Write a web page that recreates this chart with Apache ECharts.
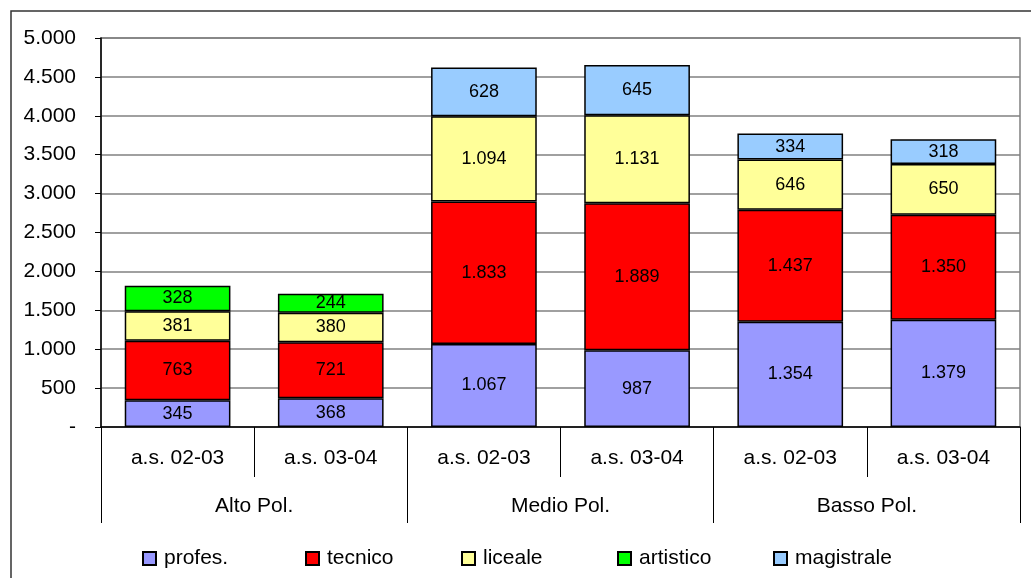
<!DOCTYPE html>
<html><head><meta charset="utf-8">
<script src="https://cdn.jsdelivr.net/npm/echarts@6/dist/echarts.min.js"></script>
<style>html,body{margin:0;padding:0;background:#fff}#c{width:1031px;height:578px}</style>
</head><body><div id="c"></div>
<script>
const subCategories = ['a.s. 02-03','a.s. 03-04','a.s. 02-03','a.s. 03-04','a.s. 02-03','a.s. 03-04'];
const groups = ['Alto Pol.','Medio Pol.','Basso Pol.'];
const profes     = [345, 368, 1067, 987, 1354, 1379];
const tecnico    = [763, 721, 1833, 1889, 1437, 1350];
const liceale    = [381, 380, 1094, 1131, 646, 650];
const artistico  = [328, 244, null, null, null, null];
const magistrale = [null, null, 628, 645, 334, 318];
const seriesNames = ['profes.','tecnico','liceale','artistico','magistrale'];
const seriesColors = ['#9999FF','#FF0000','#FFFF99','#00FF00','#99CCFF'];
const legendLefts = [137, 300, 456, 612, 768];

const FONT = '"Liberation Sans", Arial, sans-serif';
function fmt(v){
  if (v === 0) return '-';
  return String(v).replace(/\B(?=(\d{3})+(?!\d))/g, '.');
}
const values = [profes, tecnico, liceale, artistico, magistrale];
const series = seriesNames.map((n,i)=>({
  name:n, type:'bar', stack:'tot', data: values[i],
  barCategoryGap:'31%',
  itemStyle:{color:seriesColors[i], borderColor:'#000', borderWidth:1.5},
  label:{show:true, position:'inside', color:'#000', fontSize:18, fontFamily:FONT,
    formatter:p=>p.value==null?'':fmt(p.value)},
  emphasis:{disabled:true}
}));
const legends = seriesNames.map((n,i)=>({
  data:[n], left:legendLefts[i], top:543, itemWidth:13, itemHeight:13,
  icon:'rect', selectedMode:false,
  textStyle:{fontSize:21, fontFamily:FONT, color:'#000', padding:[0,0,0,3]}
}));
const chart = echarts.init(document.getElementById('c'), null, {renderer:'canvas'});
chart.setOption({
  animation:false,
  backgroundColor:'#fff',
  textStyle:{fontFamily:FONT},
  grid:{left:101, right:11, top:38, bottom:151, show:true, borderColor:'#808080', borderWidth:1.5},
  legend: legends,
  xAxis:[{
    type:'category', data:subCategories, position:'bottom',
    axisLine:{show:true, lineStyle:{color:'#000', width:1.5}},
    axisTick:{show:true, length:50, interval:0, lineStyle:{color:'#000', width:1}},
    axisLabel:{interval:0, margin:21, fontSize:21, color:'#000', fontFamily:FONT},
    splitLine:{show:false}
  },{
    type:'category', data:groups, position:'bottom', gridIndex:0,
    axisLine:{show:false},
    axisTick:{show:true, length:96, interval:0, lineStyle:{color:'#000', width:1}},
    axisLabel:{interval:0, margin:69, fontSize:21, color:'#000', fontFamily:FONT},
    splitLine:{show:false}
  }],
  yAxis:{
    type:'value', min:0, max:5000, interval:500,
    axisLine:{show:true, lineStyle:{color:'#000', width:1.5}},
    axisTick:{show:true, length:6, lineStyle:{color:'#000'}},
    axisLabel:{formatter:fmt, fontSize:21, color:'#000', margin:25, fontFamily:FONT},
    splitLine:{show:true, lineStyle:{color:'#808080', width:1.5}}
  },
  graphic:[{type:'polyline', shape:{points:[[11,578],[11,11],[1031,11]]},
    style:{stroke:'#333', lineWidth:1.5, fill:null}, silent:true}],
  series: series
});
</script></body></html>
